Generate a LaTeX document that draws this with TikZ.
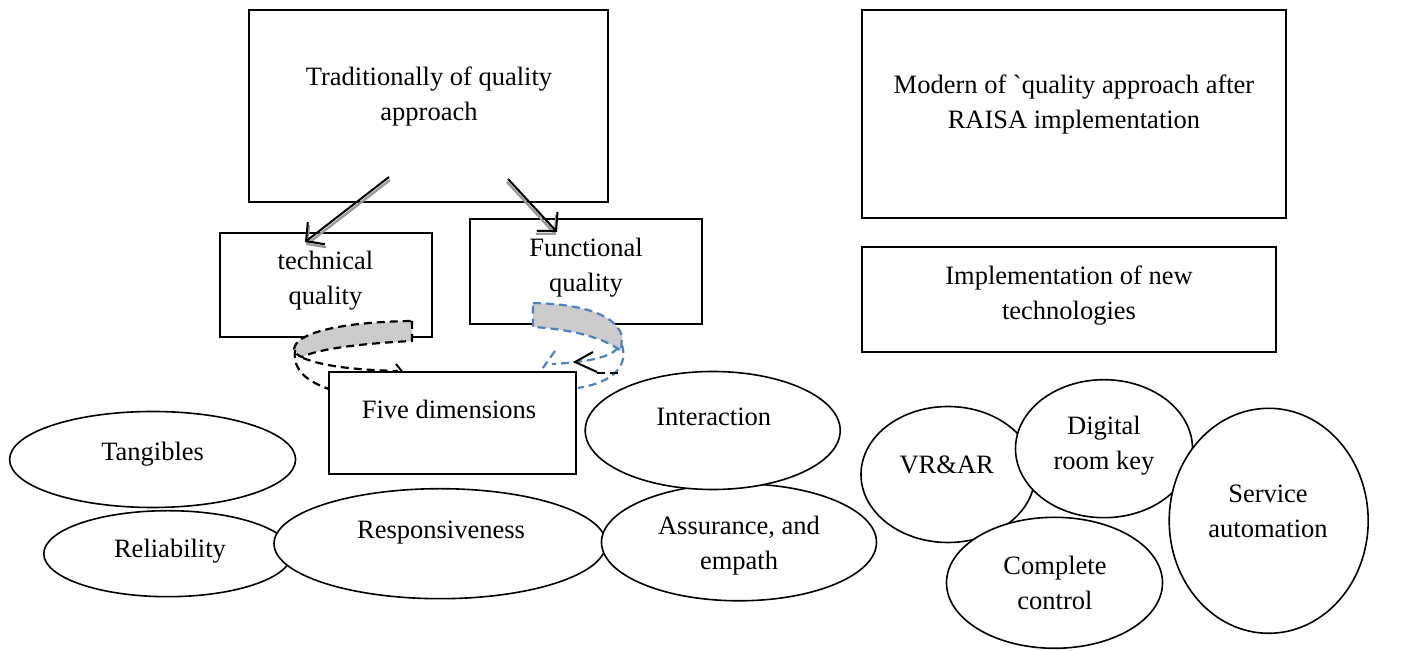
\documentclass[tikz,border=0pt]{standalone}
\usepackage{fontspec}
\setmainfont{Liberation Serif}
\usetikzlibrary{shapes.geometric,arrows.meta}
\definecolor{wblue}{HTML}{4F81BD}
\definecolor{bandgray}{HTML}{CCCCCC}
\definecolor{shadowgray}{HTML}{9A9A9A}
\begin{document}
\begin{tikzpicture}[x=0.5pt,y=-0.5pt,
 box/.style={draw, rectangle, line width=1pt, fill=white, inner sep=0pt},
 oval/.style={draw, ellipse, line width=0.8pt, fill=white, inner sep=0pt},
 txt/.style={align=center, inner sep=0pt, yshift=-1.5pt, font=\fontsize{13.25}{17.5}\selectfont},
 arr/.style={line width=1pt, -{Straight Barb[length=6.5pt,width=14pt]}},
 arrshadow/.style={arr, draw=shadowgray, line width=1.2pt},
 dsh/.style={dash pattern=on 4pt off 2.5pt, line width=1.1pt},
 tipline/.style={line width=1pt},
]
\useasboundingbox (0,0) rectangle (1410,651);

% top boxes
\node[box, minimum width=179.5pt, minimum height=96pt] (trad) at (428.5,106) {};
\node[txt] (tradt) at (429,93.7) {Traditionally of quality\\approach};
\node[box, minimum width=212pt, minimum height=104pt] (modern) at (1074,114) {};
\node[txt] (modernt) at (1074,101) {Modern of \textasciigrave quality approach after\\RAISA implementation};
\node[box, minimum width=207pt, minimum height=52.5pt] (impl) at (1069,299.5) {};
\node[txt] (implt) at (1069,292.5) {Implementation of new\\technologies};
\node[box, minimum width=106pt, minimum height=52pt] (tech) at (326,285) {};
\node[txt] (techt) at (325.5,278) {technical\\quality};
\node[box, minimum width=116pt, minimum height=52.5pt] (func) at (586,271.5) {};
\node[txt] (funct) at (586,265) {Functional\\quality};

% straight arrows with shadows
\coordinate (a1s) at (389,177);
\coordinate (a1e) at (305,242);
\coordinate (a2s) at (508,179);
\coordinate (a2e) at (557,232);
\draw[arrshadow] ([shift={(1,3)}]a1s) -- ([shift={(1,3)}]a1e);
\draw[arrshadow] ([shift={(-1,3)}]a2s) -- ([shift={(-1,3)}]a2e);
\draw[arr] (a1s) -- (a1e);
\draw[arr] (a2s) -- (a2e);

% left curved arrow (black dashed)
\path[fill=bandgray, draw=black, dsh] (412,321) -- (412,341)
  .. controls (370,343) and (320,348) .. (302,357)
  .. controls (294,354) and (293,349) .. (295,346)
  .. controls (300,333) and (340,322) .. (412,321) -- cycle;
\draw[dsh] (295,350) .. controls (293,365) and (300,380) .. (332,390);
\draw[dsh] (303,358) .. controls (325,367) and (360,370) .. (398,371);
\draw[tipline] (396,364) -- (404,374) -- (396,382);

% right curved arrow (blue dashed)
\path[fill=bandgray, draw=wblue, dsh] (533,303)
  .. controls (575,304) and (615,312) .. (622,336) -- (621,351)
  .. controls (605,338) and (570,329) .. (533,327) -- cycle;
\draw[wblue, dsh] (622,345) .. controls (628,365) and (615,382) .. (578,388);
\draw[wblue, dsh] (618,348) .. controls (610,357) and (590,362) .. (552,364);
\draw[wblue, dsh] (555,351) -- (540,372);
\draw[tipline] (593,352) -- (575,362) -- (597,372);
\draw[dsh] (597,373) -- (618,373);

% five dimensions
\node[box, minimum width=123.5pt, minimum height=51pt] (five) at (452.5,423) {};
\node[txt] (fivet) at (449,406) {Five dimensions};

% left ellipses
\node[oval, minimum width=143pt, minimum height=48pt] (tang) at (152.6,459.5) {};
\node[txt] (tangt) at (152.6,450.7) {Tangibles};
\node[oval, minimum width=124pt, minimum height=43pt] (reli) at (167.8,553.7) {};
\node[txt] (relit) at (170,548.3) {Reliability};
\node[oval, minimum width=166pt, minimum height=55pt] (resp) at (440,543.7) {};
\node[txt] (respt) at (441,530) {Responsiveness};
\node[oval, minimum width=137.5pt, minimum height=58.5pt] (assur) at (739,542.3) {};
\node[txt] (assurt) at (739,542.5) {Assurance, and\\empath};
\node[oval, minimum width=127.5pt, minimum height=59pt] (inter) at (712.7,430.5) {};
\node[txt] (intert) at (713.8,413.7) {Interaction};

% right ellipses
\node[oval, minimum width=87pt, minimum height=68pt] (vrar) at (948,474.5) {};
\node[txt] (vrart) at (946.7,461.7) {VR\&AR};
\node[oval, minimum width=88.5pt, minimum height=69pt] (dig) at (1104,448.7) {};
\node[txt] (digt) at (1104,442.5) {Digital\\room key};
\node[oval, minimum width=108pt, minimum height=65.5pt] (comp) at (1054.5,582.8) {};
\node[txt] (compt) at (1055,580) {Complete\\control};
\node[oval, minimum width=99.5pt, minimum height=112.5pt] (serv) at (1268.7,520.8) {};
\node[txt] (servt) at (1268,508.3) {Service\\automation};
\end{tikzpicture}
\end{document}
